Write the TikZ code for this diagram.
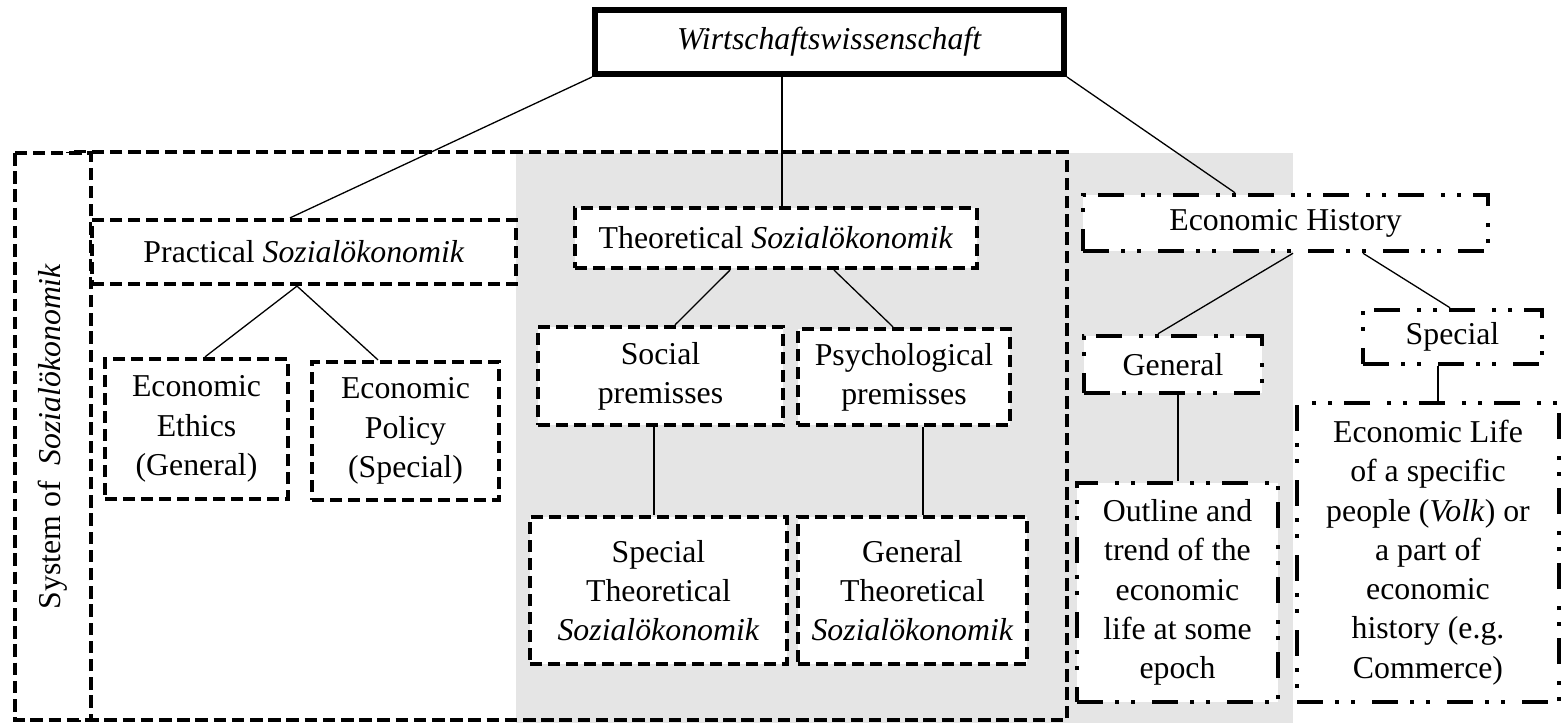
\documentclass[tikz,border=0pt]{standalone}
\usepackage{fontspec}
\setmainfont{Liberation Serif}
\usetikzlibrary{calc}
\pgfdeclarelayer{bglayer}
\pgfdeclarelayer{linelayer}
\pgfsetlayers{bglayer,linelayer,main}
\definecolor{panelgray}{RGB}{229,229,229}
\tikzset{
  txt/.style={font=\fontsize{31.8pt}{39.3pt}\selectfont, align=center, inner sep=0pt},
  dbox/.style={txt, draw, fill=white, line width=4.2pt, dash pattern=on 12pt off 6pt},
  ddbox/.style={txt, draw, fill=white, line width=4.5pt, dash pattern=on 26pt off 12pt on 4pt off 12pt on 4pt off 17pt},
  topbox/.style={txt, draw, fill=white, line width=6pt},
  conn/.style={line width=1.3pt},
}
\begin{document}
\begin{tikzpicture}[x=1pt,y=-1pt]
\useasboundingbox (0,0) rectangle (1567,723);

% boxes
\node[topbox, minimum width=469pt, minimum height=64pt] (top) at (829.5,42) {\textit{Wirtschaftswissenschaft}};
\node[dbox, line width=3.6pt, dash pattern=on 12.5pt off 5.7pt, rotate=90, minimum width=567pt, minimum height=76pt] (sys) at (53,436.5) {System of\ \ \textit{Sozialökonomik}};
\node[dbox, minimum width=424pt, minimum height=64pt] (prac) at (304,252) {Practical \textit{Sozialökonomik}};
\node[dbox, minimum width=402pt, minimum height=60pt] (theo) at (776,238) {Theoretical \textit{Sozialökonomik}};
\node[dbox, minimum width=183pt, minimum height=140pt] (ethics) at (196.5,429) {Economic\\Ethics\\(General)};
\node[dbox, minimum width=187pt, minimum height=138pt] (policy) at (405.5,431) {Economic\\Policy\\(Special)};
\node[dbox, minimum width=245pt, minimum height=98pt] (social) at (660.5,376) {Social\\premisses};
\node[dbox, minimum width=212pt, minimum height=96pt] (psych) at (904,377) {Psychological\\premisses};
\node[dbox, minimum width=257pt, minimum height=147pt] (spth) at (658.5,590.5) {Special\\Theoretical\\\textit{Sozialökonomik}};
\node[dbox, minimum width=229pt, minimum height=147pt] (genth) at (912.5,590.5) {General\\Theoretical\\\textit{Sozialökonomik}};
\node[ddbox, minimum width=405pt, minimum height=56pt] (eh) at (1285.5,223) {Economic History};
\node[ddbox, minimum width=178pt, minimum height=57pt] (gen) at (1173,364.5) {General};
\node[ddbox, minimum width=179pt, minimum height=54pt] (spec) at (1452.5,337) {Special};
\node[ddbox, minimum width=201pt, minimum height=219pt] (outline) at (1177.5,592.5) {Outline and\\trend of the\\economic\\life at some\\epoch};
\node[ddbox, minimum width=262pt, minimum height=299pt] (econlife) at (1428,552.5) {Economic Life\\of a specific\\people (\textit{Volk}) or\\a part of\\economic\\history (e.g.\\Commerce)};

\begin{pgfonlayer}{bglayer}
  \fill[panelgray] (516,153) rectangle (1293,723);
\end{pgfonlayer}

\begin{pgfonlayer}{linelayer}
  \node[draw, line width=3.6pt, dash pattern=on 12.5pt off 5.7pt, minimum width=999pt, minimum height=568pt, inner sep=0pt] (frame) at (567.5,436) {};
  \draw[conn] (top.south west) -- ([xshift=-14pt]prac.north);
  \draw[conn] ([xshift=-47.5pt]top.south) -- ([xshift=6pt]theo.north);
  \draw[conn] (top.south east) -- ([xshift=-50.5pt]eh.north);
  \draw[conn] ([xshift=-7pt]prac.south) -- ([xshift=8.5pt]ethics.north);
  \draw[conn] ([xshift=-7pt]prac.south) -- ([xshift=-27.5pt]policy.north);
  \draw[conn] ([xshift=-46pt]theo.south) -- ([xshift=14.5pt]social.north);
  \draw[conn] ([xshift=58pt]theo.south) -- ([xshift=-11pt]psych.north);
  \draw[conn] ([xshift=-6.5pt]social.south) -- ([xshift=-4.5pt]spth.north);
  \draw[conn] ([xshift=19pt]psych.south) -- ([xshift=10.5pt]genth.north);
  \draw[conn] ([xshift=7.5pt]eh.south) -- ([xshift=-15pt]gen.north);
  \draw[conn] ([xshift=77.5pt]eh.south) -- ([xshift=-2.5pt]spec.north);
  \draw[conn] ([xshift=5pt]gen.south) -- ([xshift=0.5pt]outline.north);
  \draw[conn] ([xshift=-14.5pt]spec.south) -- ([xshift=10pt]econlife.north);
\end{pgfonlayer}
\end{tikzpicture}
\end{document}
